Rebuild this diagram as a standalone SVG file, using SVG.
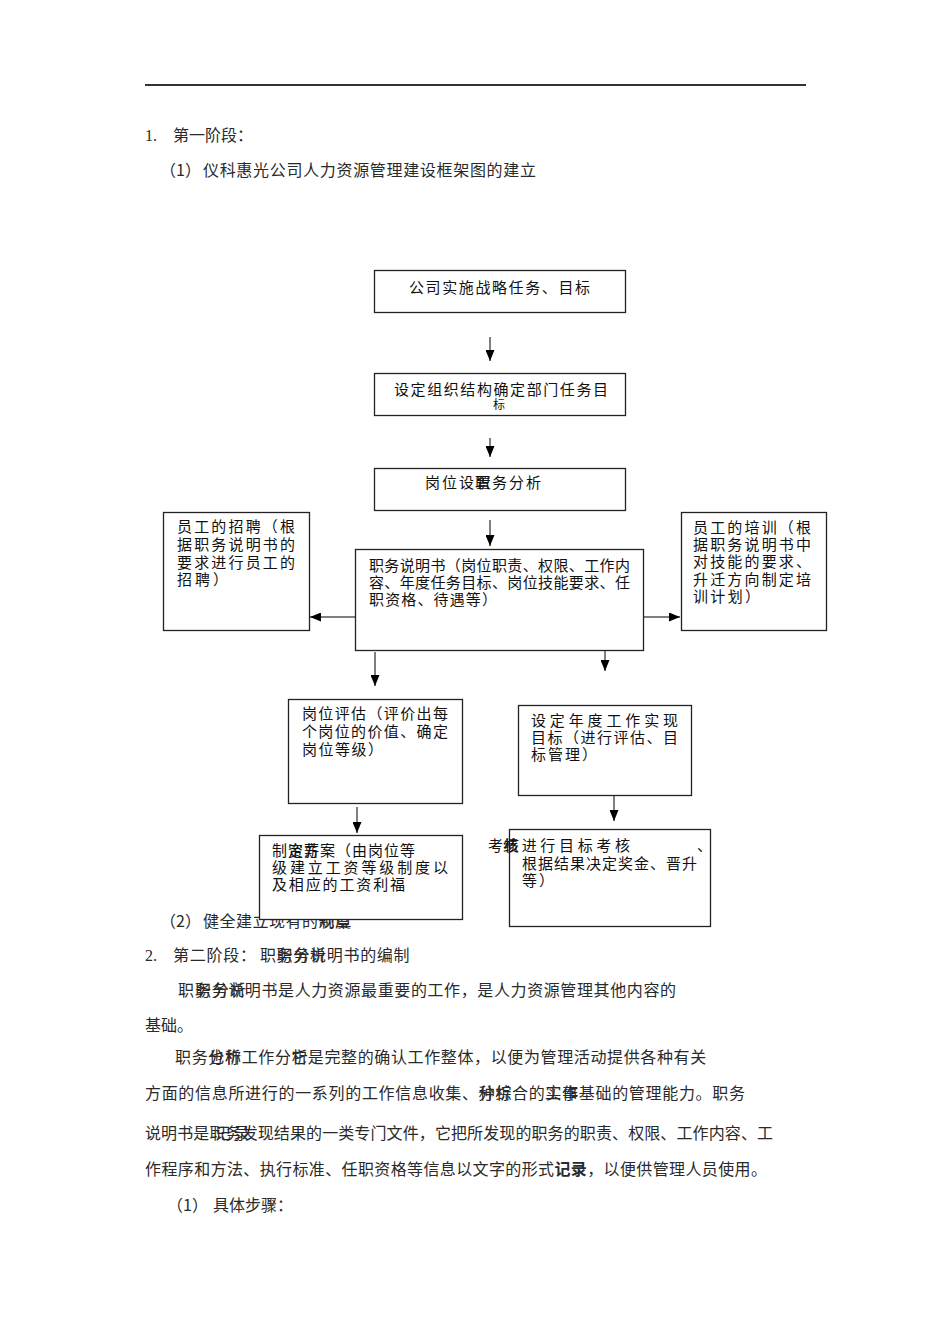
<svg xmlns="http://www.w3.org/2000/svg" width="950" height="1344" viewBox="0 0 950 1344">
<style>
.b{font-family:"Noto Sans CJK SC","Liberation Serif",sans-serif;font-size:16px;fill:#2a2a2a}
.n{font-family:"Liberation Serif","Noto Sans CJK SC",serif;font-size:16px;fill:#2a2a2a}
.t{font-family:"Noto Sans CJK SC","Liberation Sans",sans-serif;font-size:15px;fill:#111}
.box{fill:#fff;stroke:#222;stroke-width:1.3}
.c{stroke:#000;stroke-width:1;fill:none;marker-end:url(#ah)}
</style>
<defs>
<marker id="ah" markerUnits="userSpaceOnUse" markerWidth="12" markerHeight="9" refX="11" refY="4.5" orient="auto">
<path d="M0,0 L11,4.5 L0,9 z" fill="#000"/>
</marker>
</defs>
<rect width="950" height="1344" fill="#fff"/>
<line x1="145" y1="85" x2="806" y2="85" stroke="#333" stroke-width="2"/>

<g id="heading1">
<text class="n" x="145" y="141">1.</text>
<text class="b" x="173" y="141">第一阶段：</text>
<text class="b" x="160" y="176">（1）</text>
<text class="b" x="203" y="176" textLength="333" lengthAdjust="spacing">仪科惠光公司人力资源管理建设框架图的建立</text>
</g>

<g id="para-2">
<text class="b" x="160" y="927">（2）</text>
<text class="b" x="203" y="927" textLength="148" lengthAdjust="spacing">健全建立现有的制度</text>
<text class="b" x="318.5" y="927" textLength="33" lengthAdjust="spacing">规章</text>
</g>

<g id="connectors">
<line class="c" x1="490" y1="337" x2="490" y2="361"/>
<line class="c" x1="490" y1="438" x2="490" y2="457"/>
<line class="c" x1="490" y1="520" x2="490" y2="546"/>
<line class="c" x1="355" y1="617" x2="310" y2="617"/>
<line class="c" x1="643" y1="617" x2="680" y2="617"/>
<line class="c" x1="375" y1="652" x2="375" y2="686"/>
<line class="c" x1="605" y1="638" x2="605" y2="671"/>
<line class="c" x1="357" y1="807" x2="357" y2="833"/>
<line class="c" x1="614" y1="796" x2="614" y2="821"/>
</g>

<g id="n-strategy">
<rect class="box" x="374.5" y="270.5" width="251" height="42"/>
<text class="t" x="409" y="293" textLength="181" lengthAdjust="spacing">公司实施战略任务、目标</text>
</g>

<g id="n-org">
<rect class="box" x="374.5" y="373.5" width="251" height="42"/>
<text class="t" x="394" y="395" textLength="214" lengthAdjust="spacing">设定组织结构确定部门任务目</text>
<text class="t" x="493" y="409" style="font-size:12px">标</text>
</g>

<g id="n-post">
<rect class="box" x="374.5" y="468.5" width="251" height="42"/>
<text class="t" x="425" y="488" textLength="66" lengthAdjust="spacing">岗位设置</text>
<text class="t" x="475" y="488" textLength="66" lengthAdjust="spacing">职务分析</text>
</g>

<g id="n-recruit">
<rect class="box" x="163.5" y="512.5" width="146" height="118"/>
<text class="t" x="177" y="532" textLength="118" lengthAdjust="spacing">员工的招聘（根</text>
<text class="t" x="177" y="550" textLength="118" lengthAdjust="spacing">据职务说明书的</text>
<text class="t" x="177" y="568" textLength="118" lengthAdjust="spacing">要求进行员工的</text>
<text class="t" x="177" y="585" textLength="51" lengthAdjust="spacing">招聘）</text>
</g>

<g id="n-training">
<rect class="box" x="681.5" y="512.5" width="145" height="118"/>
<text class="t" x="693" y="533" textLength="118" lengthAdjust="spacing">员工的培训（根</text>
<text class="t" x="693" y="550" textLength="118" lengthAdjust="spacing">据职务说明书中</text>
<text class="t" x="693" y="567" textLength="118" lengthAdjust="spacing">对技能的要求、</text>
<text class="t" x="693" y="585" textLength="118" lengthAdjust="spacing">升迁方向制定培</text>
<text class="t" x="693" y="602" textLength="67" lengthAdjust="spacing">训计划）</text>
</g>

<g id="n-jobdesc">
<rect class="box" x="355.5" y="549.5" width="288" height="101"/>
<text class="t" x="369" y="571" textLength="261" lengthAdjust="spacing">职务说明书（岗位职责、权限、工作内</text>
<text class="t" x="369" y="588" textLength="261" lengthAdjust="spacing">容、年度任务目标、岗位技能要求、任</text>
<text class="t" x="369" y="605" textLength="128" lengthAdjust="spacing">职资格、待遇等）</text>
</g>

<g id="n-eval">
<rect class="box" x="288.5" y="699.5" width="174" height="104"/>
<text class="t" x="302" y="719" textLength="146" lengthAdjust="spacing">岗位评估（评价出每</text>
<text class="t" x="302" y="737" textLength="146" lengthAdjust="spacing">个岗位的价值、确定</text>
<text class="t" x="302" y="755" textLength="81" lengthAdjust="spacing">岗位等级）</text>
</g>

<g id="n-annual">
<rect class="box" x="518.5" y="705.5" width="173" height="90"/>
<text class="t" x="531" y="726" textLength="147" lengthAdjust="spacing">设定年度工作实现</text>
<text class="t" x="531" y="743" textLength="147" lengthAdjust="spacing">目标（进行评估、目</text>
<text class="t" x="531" y="760" textLength="66" lengthAdjust="spacing">标管理）</text>
</g>

<g id="n-salary">
<rect class="box" x="259.5" y="835.5" width="203" height="84"/>
<text class="t" x="272" y="856" textLength="143" lengthAdjust="spacing">制定薪案（由岗位等</text>
<text class="t" x="288" y="856" textLength="31" lengthAdjust="spacing">资方</text>
<text class="t" x="272" y="873" textLength="176" lengthAdjust="spacing">级建立工资等级制度以</text>
<text class="t" x="272" y="890" textLength="133" lengthAdjust="spacing">及相应的工资利福</text>
</g>

<g id="n-appraisal">
<rect class="box" x="509.5" y="829.5" width="201" height="97"/>
<text class="t" x="488" y="851" textLength="31" lengthAdjust="spacing">考核</text>
<text class="t" x="503" y="851" textLength="127" lengthAdjust="spacing">绩进行目标考核</text>
<text class="t" x="697" y="851">、</text>
<text class="t" x="522" y="869" textLength="175" lengthAdjust="spacing">根据结果决定奖金、晋升</text>
<text class="t" x="522" y="886" textLength="32" lengthAdjust="spacing">等）</text>
</g>

<g id="heading2">
<text class="n" x="145" y="961">2.</text>
<text class="b" x="173" y="961" textLength="83" lengthAdjust="spacing">第二阶段：</text>
<text class="b" x="260" y="961" textLength="66" lengthAdjust="spacing">职务分析</text>
<text class="b" x="276.6" y="961" textLength="133" lengthAdjust="spacing">职务说明书的编制</text>
</g>

<g id="body">
<text class="b" x="178" y="996" textLength="68" lengthAdjust="spacing">职务分析</text>
<text class="b" x="195" y="996" textLength="481" lengthAdjust="spacing">职务说明书是人力资源最重要的工作，是人力资源管理其他内容的</text>
<text class="b" x="145" y="1031">基础。</text>
<text class="b" x="175" y="1063" textLength="66" lengthAdjust="spacing">职务分析</text>
<text class="b" x="208.2" y="1063" textLength="99.6" lengthAdjust="spacing">也称工作分析</text>
<text class="b" x="291.2" y="1063" textLength="415" lengthAdjust="spacing">它是完整的确认工作整体，以便为管理活动提供各种有关</text>
<text class="b" x="145" y="1099" textLength="600" lengthAdjust="spacing">方面的信息所进行的一系列的工作信息收集、种综合的实事基础的管理能力。职务</text>
<text class="b" x="478.3" y="1099" textLength="33" lengthAdjust="spacing">分析</text>
<text class="b" x="545" y="1099" textLength="33" lengthAdjust="spacing">工作</text>
<text class="b" x="145" y="1139" textLength="628" lengthAdjust="spacing">说明书是职务发现结果的一类专门文件，它把所发现的职务的职责、权限、工作内容、工</text>
<text class="b" x="214.8" y="1139" textLength="35" lengthAdjust="spacing">记录</text>
<text class="b" x="145" y="1175" textLength="622" lengthAdjust="spacing">作程序和方法、执行标准、任职资格等信息以文字的形式<tspan font-weight="bold">记录</tspan>，以便供管理人员使用。</text>
<text class="b" x="167" y="1211">（1）</text>
<text class="b" x="213" y="1211">具体步骤：</text>
</g>
</svg>
